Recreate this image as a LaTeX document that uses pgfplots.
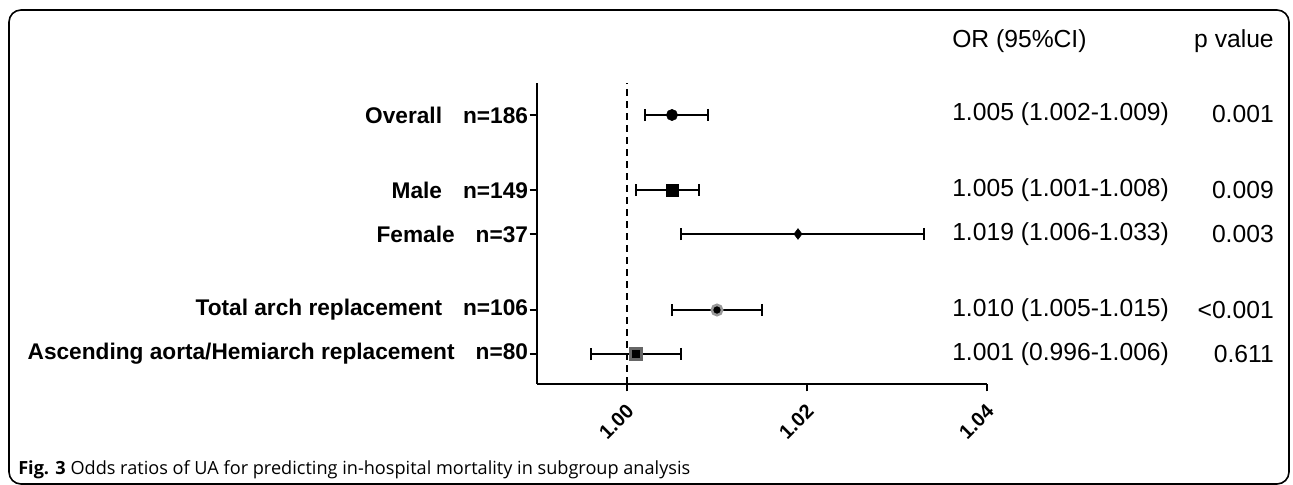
\documentclass[border=0pt]{standalone}
\usepackage{pgfplots}
\pgfplotsset{compat=1.18}
\usepackage{fontspec}
\setmainfont{Liberation Sans}
\newfontfamily\capfont{Open Sans}
\pgfplotstableread{
y   x      lo     hi
269 1.005  0.003  0.004
}\overall
\pgfplotstableread{
y   x      lo     hi
194 1.005  0.004  0.003
}\male
\pgfplotstableread{
y   x      lo     hi
150 1.019  0.013  0.014
}\female
\pgfplotstableread{
y   x      lo     hi
74  1.010  0.005  0.005
}\total
\pgfplotstableread{
y   x      lo     hi
30  1.001  0.005  0.005
}\ascending
\begin{document}
\begin{tikzpicture}
\begin{scope}[x=0.75pt,y=0.75pt]
\useasboundingbox (0,0) rectangle (1293,485);
\draw[line width=1.2pt,rounded corners=9pt] (9,1) rectangle (1289,475);
\end{scope}
\begin{axis}[
  at={(402.75pt,75.75pt)}, anchor=south west,
  scale only axis, width=337.5pt, height=225.75pt,
  xmin=0.990, xmax=1.04, ymin=0, ymax=301,
  axis x line*=bottom, axis y line*=left,
  axis line style={line width=2pt},
  every outer x axis line/.append style={-},
  every outer y axis line/.append style={-},
  tick align=outside, major tick length=5.5pt,
  every tick/.style={line width=2pt, black},
  xtick={1.00,1.02,1.04},
  xticklabels={\textbf{1.00},\textbf{1.02},\textbf{1.04}},
  xticklabel style={font=\bfseries\fontsize{15}{17}\selectfont, xshift=-1.5pt, yshift=-7pt, rotate=45, anchor=north east, inner sep=1pt},
  ytick={30,74,150,194,269},
  yticklabels={
    {Ascending aorta/Hemiarch replacement\hspace{0.93em}n=80},
    {Total arch replacement\hspace{0.93em}n=106},
    {Female\hspace{0.93em}n=37},
    {Male\hspace{0.93em}n=149},
    {Overall\hspace{0.93em}n=186}},
  yticklabel style={font=\bfseries\fontsize{17}{19}\selectfont, inner sep=1pt},
  clip=false,
  error bars/error mark=|,
  error bars/error bar style={line width=1.6pt, black},
  error bars/error mark options={line width=1.6pt, black, mark size=4.6pt},
]
\addplot[black, line width=1.6pt, dash pattern=on 5pt off 4pt] coordinates {(1.00,0) (1.00,301)};
\addplot[only marks, mark=*, mark size=4.2pt, black,
  error bars/.cd, x dir=both, x explicit]
  table[x=x, y=y, x error plus=hi, x error minus=lo] {\overall};
\addplot[only marks, mark=square*, mark size=4.5pt, black,
  error bars/.cd, x dir=both, x explicit]
  table[x=x, y=y, x error plus=hi, x error minus=lo] {\male};
\addplot[only marks, mark=diamond*, mark size=4pt, black,
  error bars/.cd, x dir=both, x explicit]
  table[x=x, y=y, x error plus=hi, x error minus=lo] {\female};
\addplot[only marks, mark=*, mark size=3.9pt, mark options={fill=black, draw=black!40, line width=1.9pt},
  error bars/.cd, x dir=both, x explicit]
  table[x=x, y=y, x error plus=hi, x error minus=lo] {\total};
\addplot[only marks, mark=square*, mark size=4.3pt, mark options={fill=black, draw=black!60, line width=1.9pt},
  error bars/.cd, x dir=both, x explicit]
  table[x=x, y=y, x error plus=hi, x error minus=lo] {\ascending};
\end{axis}
\begin{scope}[x=0.75pt,y=0.75pt,every node/.style={font=\fontsize{18.5}{21}\selectfont, inner sep=0pt}]
\node[anchor=west] at (952,444) {OR (95\%CI)};
\node[anchor=east] at (1274,444) {p value};
\node[anchor=west] at (952,371) {1.005 (1.002-1.009)};
\node[anchor=east] at (1274,371) {0.001};
\node[anchor=west] at (952,295) {1.005 (1.001-1.008)};
\node[anchor=east] at (1274,295) {0.009};
\node[anchor=west] at (952,251) {1.019 (1.006-1.033)};
\node[anchor=east] at (1274,251) {0.003};
\node[anchor=west] at (952,175) {1.010 (1.005-1.015)};
\node[anchor=east] at (1274,175) {<0.001};
\node[anchor=west] at (952,131) {1.001 (0.996-1.006)};
\node[anchor=east] at (1274,131) {0.611};
\node[anchor=west, font=\capfont\fontsize{13.6}{16}\selectfont] at (18,15) {\textbf{Fig. 3} Odds ratios of UA for predicting in-hospital mortality in subgroup analysis};
\end{scope}
\end{tikzpicture}
\end{document}
